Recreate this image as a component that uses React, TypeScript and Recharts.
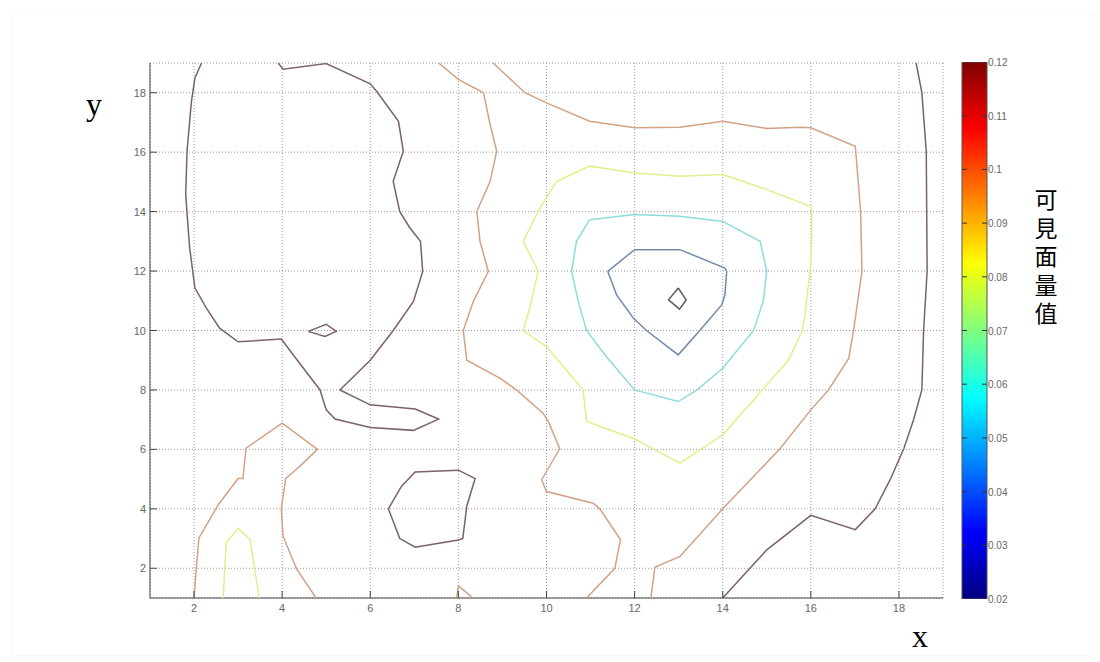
import React from "react";
import {
  ScatterChart,
  Scatter,
  XAxis,
  YAxis,
  CartesianGrid,
  BarChart,
  Bar,
  ReferenceLine,
} from "recharts";

type Pt = { x: number; y: number };

const X_TICKS = [2, 4, 6, 8, 10, 12, 14, 16, 18];
const Y_TICKS = [2, 4, 6, 8, 10, 12, 14, 16, 18];
const CB_TICKS = [0.02, 0.03, 0.04, 0.05, 0.06, 0.07, 0.08, 0.09, 0.1, 0.11, 0.12];
const CB_LABEL = "可見面量值";

// 等值線（由左至右）
const leftDark: Pt[] = [
  { x: 2.17, y: 19.0 }, { x: 2.02, y: 18.5 }, { x: 1.94, y: 17.7 },
  { x: 1.84, y: 16.03 }, { x: 1.81, y: 14.57 }, { x: 1.9, y: 12.78 },
  { x: 2.02, y: 11.43 }, { x: 2.28, y: 10.75 }, { x: 2.58, y: 10.08 },
  { x: 3.0, y: 9.62 }, { x: 3.98, y: 9.71 }, { x: 4.4, y: 8.89 },
  { x: 4.86, y: 8.0 }, { x: 5.0, y: 7.33 }, { x: 5.2, y: 7.02 },
  { x: 6.0, y: 6.74 }, { x: 6.98, y: 6.64 }, { x: 7.55, y: 7.02 },
  { x: 7.02, y: 7.36 }, { x: 6.0, y: 7.5 }, { x: 5.31, y: 8.0 },
  { x: 6.0, y: 9.0 }, { x: 6.52, y: 10.0 }, { x: 6.98, y: 10.98 },
  { x: 7.19, y: 11.99 }, { x: 7.14, y: 13.0 }, { x: 6.9, y: 13.45 },
  { x: 6.67, y: 14.0 }, { x: 6.52, y: 15.02 }, { x: 6.75, y: 16.03 },
  { x: 6.64, y: 17.04 }, { x: 6.14, y: 18.06 }, { x: 6.0, y: 18.3 },
  { x: 5.0, y: 18.98 }, { x: 4.02, y: 18.79 }, { x: 3.91, y: 19.0 },
];

const smallDiamond: Pt[] = [
  { x: 4.59, y: 9.97 }, { x: 5.0, y: 10.21 }, { x: 5.23, y: 9.97 },
  { x: 4.97, y: 9.8 }, { x: 4.59, y: 9.97 },
];

const ringDark: Pt[] = [
  { x: 6.41, y: 4.0 }, { x: 6.71, y: 4.76 }, { x: 7.02, y: 5.24 },
  { x: 8.0, y: 5.3 }, { x: 8.38, y: 5.02 }, { x: 8.19, y: 4.09 },
  { x: 8.1, y: 3.0 }, { x: 8.0, y: 2.95 }, { x: 7.02, y: 2.71 },
  { x: 6.67, y: 3.0 }, { x: 6.41, y: 4.0 },
];

const lowerLeftOrange: Pt[] = [
  { x: 2.0, y: 1.0 }, { x: 2.05, y: 1.96 }, { x: 2.11, y: 3.02 },
  { x: 2.55, y: 4.14 }, { x: 3.0, y: 5.02 }, { x: 3.11, y: 5.02 },
  { x: 3.18, y: 6.04 }, { x: 4.0, y: 6.88 }, { x: 4.8, y: 6.0 },
  { x: 4.4, y: 5.43 }, { x: 4.08, y: 5.02 }, { x: 3.98, y: 4.0 },
  { x: 4.02, y: 3.08 }, { x: 4.33, y: 1.97 }, { x: 4.77, y: 1.0 },
];

const lowerLeftYellow: Pt[] = [
  { x: 2.66, y: 1.0 }, { x: 2.73, y: 2.86 }, { x: 3.0, y: 3.34 },
  { x: 3.27, y: 2.97 }, { x: 3.48, y: 1.0 },
];

const bottomBump: Pt[] = [
  { x: 7.96, y: 1.0 }, { x: 8.0, y: 1.41 }, { x: 8.33, y: 1.0 },
];

const midOrange: Pt[] = [
  { x: 7.55, y: 19.0 }, { x: 8.0, y: 18.45 }, { x: 8.57, y: 18.0 },
  { x: 8.72, y: 16.93 }, { x: 8.87, y: 16.03 }, { x: 8.72, y: 15.02 },
  { x: 8.42, y: 14.01 }, { x: 8.49, y: 13.0 }, { x: 8.68, y: 11.99 },
  { x: 8.34, y: 10.98 }, { x: 8.11, y: 10.0 }, { x: 8.19, y: 9.0 },
  { x: 8.95, y: 8.39 }, { x: 9.32, y: 8.0 }, { x: 9.92, y: 7.22 },
  { x: 10.04, y: 6.94 }, { x: 10.3, y: 6.02 }, { x: 9.89, y: 4.98 },
  { x: 10.0, y: 4.58 }, { x: 11.06, y: 4.19 }, { x: 11.21, y: 4.0 },
  { x: 11.68, y: 2.96 }, { x: 11.55, y: 2.0 }, { x: 10.91, y: 1.0 },
];

const bigOrange: Pt[] = [
  { x: 8.79, y: 19.0 }, { x: 9.51, y: 18.0 }, { x: 10.0, y: 17.66 },
  { x: 10.98, y: 17.04 }, { x: 12.0, y: 16.82 }, { x: 13.03, y: 16.84 },
  { x: 14.0, y: 17.04 }, { x: 15.0, y: 16.8 }, { x: 15.76, y: 16.84 },
  { x: 16.0, y: 16.82 }, { x: 17.01, y: 16.2 }, { x: 17.13, y: 14.01 },
  { x: 17.16, y: 11.99 }, { x: 16.97, y: 10.0 }, { x: 16.86, y: 9.06 },
  { x: 16.4, y: 8.0 }, { x: 16.0, y: 7.33 }, { x: 15.3, y: 6.02 },
  { x: 14.7, y: 5.09 }, { x: 14.0, y: 4.0 }, { x: 13.03, y: 2.4 },
  { x: 12.46, y: 2.03 }, { x: 12.37, y: 1.0 },
];

const rightDark: Pt[] = [
  { x: 18.39, y: 19.0 }, { x: 18.52, y: 18.0 }, { x: 18.62, y: 16.03 },
  { x: 18.64, y: 11.99 }, { x: 18.56, y: 10.0 }, { x: 18.52, y: 8.0 },
  { x: 18.33, y: 6.99 }, { x: 18.11, y: 6.02 }, { x: 17.8, y: 4.98 },
  { x: 17.46, y: 4.0 }, { x: 17.01, y: 3.3 }, { x: 16.0, y: 3.78 },
  { x: 15.0, y: 2.62 }, { x: 14.0, y: 1.0 },
];

const yellowRing: Pt[] = [
  { x: 9.47, y: 13.0 }, { x: 9.85, y: 14.12 }, { x: 10.23, y: 15.02 },
  { x: 10.98, y: 15.53 }, { x: 12.0, y: 15.3 }, { x: 13.03, y: 15.19 },
  { x: 14.0, y: 15.25 }, { x: 15.0, y: 14.74 }, { x: 16.0, y: 14.18 },
  { x: 16.02, y: 14.01 }, { x: 16.02, y: 13.0 }, { x: 15.98, y: 11.99 },
  { x: 15.87, y: 10.53 }, { x: 15.8, y: 9.97 }, { x: 15.49, y: 9.0 },
  { x: 14.96, y: 8.11 }, { x: 14.77, y: 7.78 }, { x: 14.0, y: 6.49 },
  { x: 13.03, y: 5.54 }, { x: 12.0, y: 6.35 }, { x: 10.91, y: 6.94 },
  { x: 10.83, y: 8.0 }, { x: 10.0, y: 9.46 }, { x: 9.47, y: 10.0 },
  { x: 9.62, y: 10.75 }, { x: 9.81, y: 11.99 }, { x: 9.7, y: 12.33 },
  { x: 9.47, y: 13.0 },
];

const cyanRing: Pt[] = [
  { x: 10.98, y: 13.73 }, { x: 12.0, y: 13.9 }, { x: 13.03, y: 13.84 },
  { x: 14.0, y: 13.67 }, { x: 14.85, y: 13.0 }, { x: 15.0, y: 11.99 },
  { x: 14.92, y: 10.98 }, { x: 14.7, y: 10.0 }, { x: 14.0, y: 8.73 },
  { x: 13.42, y: 8.0 }, { x: 12.99, y: 7.61 }, { x: 12.0, y: 8.0 },
  { x: 11.36, y: 9.12 }, { x: 10.91, y: 10.0 }, { x: 10.72, y: 10.98 },
  { x: 10.57, y: 11.99 }, { x: 10.68, y: 13.0 }, { x: 10.98, y: 13.73 },
];

const blueRing: Pt[] = [
  { x: 11.39, y: 11.99 }, { x: 12.0, y: 12.72 }, { x: 13.03, y: 12.72 },
  { x: 14.05, y: 12.1 }, { x: 14.09, y: 11.99 }, { x: 14.05, y: 11.2 },
  { x: 13.98, y: 10.87 }, { x: 13.48, y: 10.0 }, { x: 12.99, y: 9.18 },
  { x: 12.27, y: 10.0 }, { x: 11.97, y: 10.42 }, { x: 11.59, y: 11.2 },
  { x: 11.39, y: 11.99 },
];

const peakDiamond: Pt[] = [
  { x: 12.99, y: 11.43 }, { x: 13.17, y: 11.03 }, { x: 13.02, y: 10.72 },
  { x: 12.77, y: 11.03 }, { x: 12.99, y: 11.43 },
];

const DARK = "#7a6070";
const ORANGE = "#d2a287";
const YELLOW = "#e4ee8c";
const CYAN = "#8ddcdc";
const BLUE = "#7489aa";

const contours: { data: Pt[]; color: string }[] = [
  { data: leftDark, color: DARK },
  { data: smallDiamond, color: DARK },
  { data: ringDark, color: DARK },
  { data: rightDark, color: DARK },
  { data: lowerLeftOrange, color: ORANGE },
  { data: bottomBump, color: ORANGE },
  { data: midOrange, color: ORANGE },
  { data: bigOrange, color: ORANGE },
  { data: lowerLeftYellow, color: YELLOW },
  { data: yellowRing, color: YELLOW },
  { data: cyanRing, color: CYAN },
  { data: blueRing, color: BLUE },
  { data: peakDiamond, color: "#5a5a66" },
];

const cbData = [{ name: "cb", v: 0.12 }];

// jet colormap, top = high
const JET = [
  { o: 0, c: "#7f0000" },
  { o: 0.125, c: "#ff0000" },
  { o: 0.375, c: "#ffff00" },
  { o: 0.625, c: "#00ffff" },
  { o: 0.875, c: "#0000ff" },
  { o: 1, c: "#00007f" },
];

const tickFont = "'Liberation Sans', Arial, sans-serif";

const XTick = (props: any) => {
  const { x, y, payload } = props;
  return (
    <g>
      <line x1={x} y1={y} x2={x} y2={y - 7} stroke="#444" strokeWidth={1} />
      <text x={x} y={y + 14} textAnchor="middle" fontSize={11} fill="#666" fontFamily={tickFont}>
        {payload.value}
      </text>
    </g>
  );
};

const YTick = (props: any) => {
  const { x, y, payload } = props;
  return (
    <g>
      <line x1={x} y1={y} x2={x + 7} y2={y} stroke="#444" strokeWidth={1} />
      <text x={x - 4} y={y + 4} textAnchor="end" fontSize={11} fill="#666" fontFamily={tickFont}>
        {payload.value}
      </text>
    </g>
  );
};

const CbTick = (props: any) => {
  const { x, y, payload } = props;
  return (
    <text x={x + 1} y={y + 4} textAnchor="start" fontSize={10} fill="#666" fontFamily={tickFont}>
      {payload.value}
    </text>
  );
};

export default function App() {
  const innerTicks = CB_TICKS.slice(1, -1);
  return (
    <div
      style={{
        position: "fixed",
        left: 0,
        top: 0,
        width: 1100,
        height: 662,
        background: "#fff",
        overflow: "hidden",
      }}
    >
      <div
        style={{
          position: "absolute",
          left: 12,
          top: 14,
          width: 1080,
          height: 640,
          border: "1px solid #f8f8f8",
        }}
      />
      <div style={{ position: "absolute", left: 0, top: 0 }}>
        <ScatterChart
          width={1100}
          height={662}
          margin={{ top: 63, right: 157, bottom: 34, left: 110 }}
        >
          <CartesianGrid stroke="#9a9a9a" strokeDasharray="1 2" />
          <XAxis
            type="number"
            dataKey="x"
            domain={[1, 19]}
            ticks={X_TICKS}
            allowDataOverflow
            height={30}
            tickSize={0}
            tickMargin={0}
            tickLine={false}
            axisLine={{ stroke: "#444" }}
            tick={<XTick />}
          />
          <YAxis
            type="number"
            dataKey="y"
            domain={[1, 19]}
            ticks={Y_TICKS}
            allowDataOverflow
            width={40}
            tickSize={0}
            tickMargin={0}
            tickLine={false}
            axisLine={{ stroke: "#444" }}
            tick={<YTick />}
          />
          {contours.map((c, i) => (
            <Scatter
              key={i}
              data={c.data}
              fill={c.color}
              line={{ stroke: c.color, strokeWidth: 1.5 }}
              shape={() => <g />}
              isAnimationActive={false}
            />
          ))}
        </ScatterChart>
      </div>
      <div style={{ position: "absolute", left: 950, top: 0 }}>
        <BarChart
          width={80}
          height={662}
          data={cbData}
          margin={{ top: 62, right: 3, bottom: 63, left: 12 }}
          barCategoryGap={0}
        >
          <defs>
            <linearGradient id="jet" x1="0" y1="0" x2="0" y2="1">
              {JET.map((s) => (
                <stop key={s.o} offset={s.o} stopColor={s.c} />
              ))}
            </linearGradient>
          </defs>
          <XAxis dataKey="name" hide />
          <YAxis
            orientation="right"
            type="number"
            domain={[0.02, 0.12]}
            ticks={CB_TICKS}
            allowDataOverflow
            width={40}
            tickSize={0}
            tickMargin={0}
            tickLine={false}
            axisLine={false}
            interval={0}
            tick={<CbTick />}
          />
          <Bar
            dataKey="v"
            fill="url(#jet)"
            stroke="#555"
            strokeWidth={1}
            isAnimationActive={false}
          />
          {/* inward tick marks on both edges of the colour bar */}
          {innerTicks.map((t) => (
            <ReferenceLine
              key={t}
              y={t}
              stroke="#333"
              strokeWidth={1}
              strokeDasharray="5 15"
            />
          ))}
        </BarChart>
      </div>
      <div
        style={{
          position: "absolute",
          left: 86,
          top: 88,
          fontFamily: "'Liberation Serif', 'Times New Roman', serif",
          fontSize: 32,
          lineHeight: "32px",
          color: "#000",
        }}
      >
        y
      </div>
      <div
        style={{
          position: "absolute",
          left: 912,
          top: 620,
          fontFamily: "'Liberation Serif', 'Times New Roman', serif",
          fontSize: 32,
          lineHeight: "32px",
          color: "#000",
        }}
      >
        x
      </div>
      <div
        style={{
          position: "absolute",
          left: 1033,
          top: 188,
          width: 26,
          fontFamily: "'Noto Sans CJK TC', 'Noto Sans CJK SC', sans-serif",
          fontSize: 23,
          lineHeight: "26px",
          letterSpacing: "5.5px",
          textAlign: "center",
          color: "#000",
          writingMode: "vertical-rl",
        }}
      >
        {CB_LABEL}
      </div>
    </div>
  );
}
